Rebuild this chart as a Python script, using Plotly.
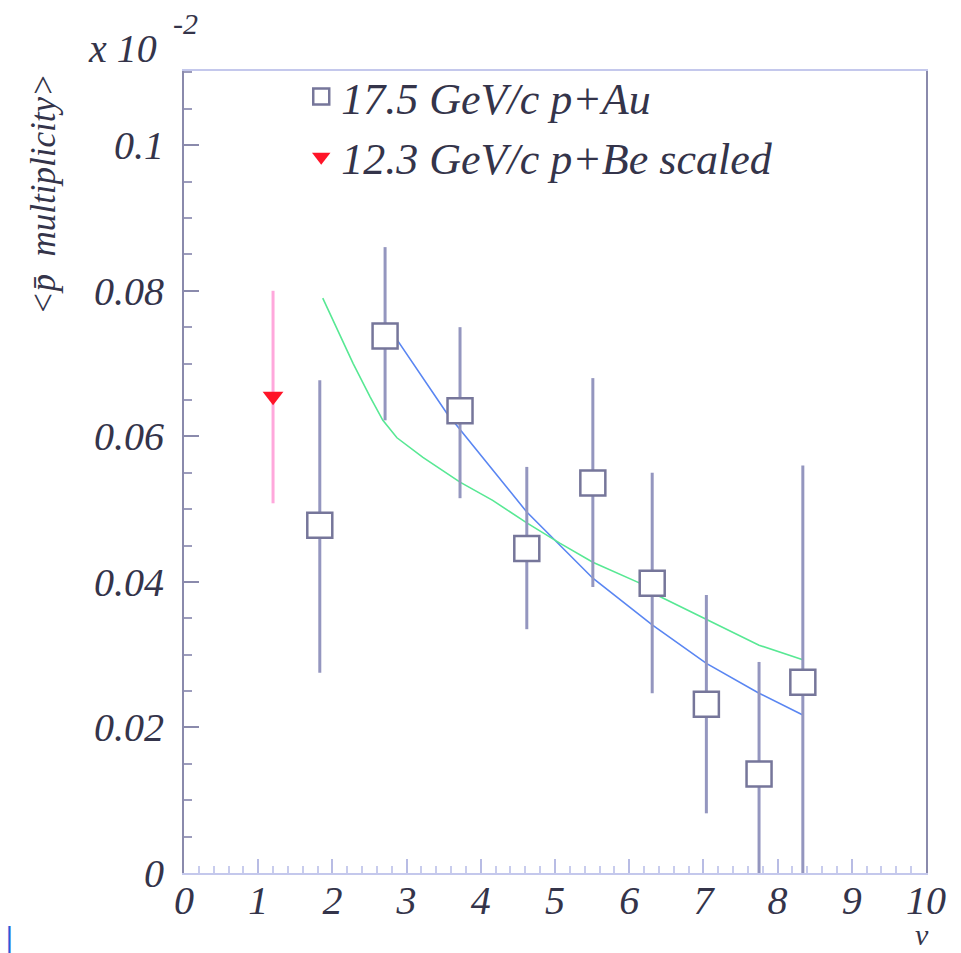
import plotly.graph_objects as go

# Data (values in units of 10^-2 displayed as in the reference axis)
au_x = [1.83, 2.71, 3.72, 4.62, 5.51, 6.31, 7.04, 7.75, 8.34]
au_y = [0.0478, 0.0738, 0.0635, 0.0446, 0.0536, 0.0398, 0.0232, 0.0136, 0.0262]
au_err_hi = [0.0199, 0.0122, 0.0115, 0.0112, 0.0144, 0.0152, 0.0150, 0.0154, 0.0298]
au_err_lo = [0.0203, 0.0116, 0.0120, 0.0111, 0.0143, 0.0151, 0.0150, 0.0136, 0.0262]

be_x = [1.2]
be_y = [0.0655]
be_err_hi = [0.0145]
be_err_lo = [0.0147]

blue_x = [2.71, 3.54, 4.62, 5.51, 6.31, 7.04, 7.75, 8.34]
blue_y = [0.0757, 0.0632, 0.0496, 0.0405, 0.0341, 0.0288, 0.0247, 0.0217]

green_x = [1.87, 2.06, 2.28, 2.51, 2.68, 2.87, 3.22, 3.72, 4.16, 4.62, 5.07, 5.51, 6.15, 6.31, 7.04, 7.75, 8.34]
green_y = [0.0790, 0.0749, 0.0700, 0.0654, 0.0622, 0.0598, 0.0571, 0.0537, 0.0512, 0.0481, 0.0453, 0.0427, 0.0398, 0.0385, 0.0348, 0.0313, 0.0293]

y_tickvals = [0, 0.02, 0.04, 0.06, 0.08, 0.1]
y_ticktext = ["0", "0.02", "0.04", "0.06", "0.08", "0.1"]
x_tickvals = list(range(0, 11))
x_ticktext = [str(v) for v in x_tickvals]

SERIF = "Liberation Serif"
TXT = "#34344a"

fig = go.Figure()

fig.add_trace(go.Scatter(
    x=blue_x, y=blue_y, mode="lines", showlegend=False,
    line=dict(color="#5a86f2", width=1.6)))
fig.add_trace(go.Scatter(
    x=green_x, y=green_y, mode="lines", showlegend=False,
    line=dict(color="#58e894", width=1.6)))

fig.add_trace(go.Scatter(
    x=au_x, y=au_y, mode="markers", name="17.5 GeV/c p+Au",
    marker=dict(symbol="square", size=25, color="white",
                line=dict(color="#76769a", width=2.5)),
    error_y=dict(type="data", symmetric=False, array=au_err_hi,
                 arrayminus=au_err_lo, color="#9496bf", thickness=3, width=0)))

fig.add_trace(go.Scatter(
    x=be_x, y=be_y, mode="markers", name="12.3 GeV/c p+Be scaled",
    marker=dict(symbol="triangle-down", size=18, color="#ff1428",
                line=dict(width=0)),
    error_y=dict(type="data", symmetric=False, array=be_err_hi,
                 arrayminus=be_err_lo, color="#ffa8dc", thickness=3, width=0)))

fig.update_layout(
    width=961, height=953,
    margin=dict(l=184, r=35, t=71, b=80),
    paper_bgcolor="white", plot_bgcolor="white",
    showlegend=True,
    legend=dict(x=0.158, y=1.012, xanchor="left", yanchor="top",
                bgcolor="rgba(0,0,0,0)",
                font=dict(family=SERIF, size=44, color=TXT, style="italic"),
                tracegroupgap=0, itemsizing="trace"),
    xaxis=dict(range=[0, 10], tickvals=x_tickvals, ticktext=x_ticktext,
               ticks="inside", ticklen=14, tickwidth=1.5, tickcolor="#b8bce4",
               minor=dict(dtick=0.2, ticks="inside", ticklen=7, tickcolor="#c8cced", tickwidth=1.5),
               showgrid=False, zeroline=False,
               showline=True, linecolor="#c4c8ec", linewidth=2, mirror=True,
               tickfont=dict(family=SERIF, size=40, color=TXT, style="italic"),
               ticklabelstandoff=-9),
    yaxis=dict(range=[0, 0.1102], tickvals=y_tickvals, ticktext=y_ticktext,
               ticks="inside", ticklen=15, tickwidth=2, tickcolor="#8a8aac",
               minor=dict(dtick=0.005, ticks="inside", ticklen=8, tickcolor="#9c9cbc", tickwidth=1.5),
               showgrid=False, zeroline=False,
               showline=True, linecolor="#8a8aac", linewidth=2, mirror=True,
               tickfont=dict(family=SERIF, size=40, color=TXT, style="italic"),
               ticklabelstandoff=10),
)

fig.add_annotation(
    text="&lt;p\u0304  multiplicity&gt;", xref="paper", yref="paper",
    x=-0.19, y=1.0, xanchor="center", yanchor="top", textangle=-90,
    showarrow=False, font=dict(family=SERIF, size=35, color=TXT, style="italic"))

fig.add_annotation(
    text="x 10", xref="paper", yref="paper",
    x=-0.034, y=0.997, xanchor="right", yanchor="bottom",
    showarrow=False, font=dict(family=SERIF, size=40, color=TXT, style="italic"))

fig.add_annotation(
    text="-2", xref="paper", yref="paper",
    x=-0.017, y=1.036, xanchor="left", yanchor="bottom",
    showarrow=False, font=dict(family=SERIF, size=30, color=TXT, style="italic"))

fig.add_annotation(
    text="\u03bd", xref="paper", yref="paper",
    x=0.995, y=-0.0998, xanchor="center", yanchor="bottom",
    showarrow=False, font=dict(family=SERIF, size=30, color=TXT, style="italic"))

fig.add_annotation(
    text="|", xref="paper", yref="paper",
    x=-0.244, y=-0.058, xanchor="left", yanchor="top",
    showarrow=False, font=dict(family="DejaVu Sans", size=26, color="#2a5ad8"))

fig.write_html("out.html")
